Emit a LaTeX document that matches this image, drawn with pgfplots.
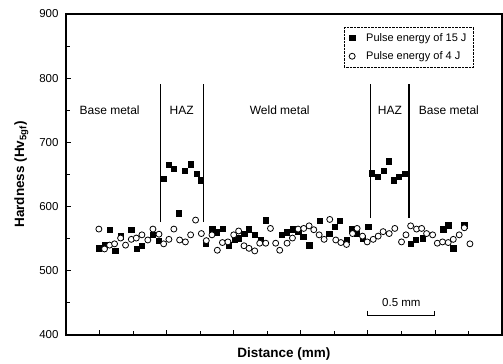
\documentclass[border=0pt]{standalone}
\usepackage{pgfplots}
\pgfplotsset{compat=1.18}
\usepackage{fontspec}
\setmainfont{Liberation Sans}
\begin{document}
\begin{tikzpicture}
\begin{axis}[
  scale only axis, width=436pt, height=321pt,
  xmin=-0.25, xmax=3.0, ymin=400, ymax=900,
  xtick={0,0.5,...,2.5}, minor xtick={0.25,0.75,...,2.75}, xticklabels={},
  ytick={400,500,...,900}, minor ytick={450,550,...,850},
  tick pos=left, tick align=inside,
  major tick length=5pt, minor tick length=4pt,
  every tick/.style={black, line width=0.8pt},
  x tick style={black, line width=0.8pt},
  minor x tick style={black, line width=0.8pt},
  axis line style={line width=1.1pt},
  /pgf/number format/assume math mode=true,
  tick label style={font=\fontsize{11.5}{13}\selectfont},
  yticklabel style={xshift=-4pt},
  ylabel={\textbf{Hardness (Hv\textsubscript{5gf})}},
  xlabel={\textbf{Distance (mm)}},
  label style={font=\fontsize{13.5}{15}\selectfont},
  ylabel style={yshift=4pt},
  xlabel style={yshift=-2pt},
  legend style={at={(0.935,0.96)}, anchor=north east, draw=black, densely dotted,
    font=\fontsize{11}{13}\selectfont, row sep=5pt, column sep=9pt,
    inner xsep=5pt, inner ysep=4pt},
  legend cell align=left,
  clip=false,
]
\addplot[only marks, mark=square*, mark size=2.7pt, black, mark options={solid}] coordinates {
(-0.005,535) (0.037,540) (0.075,564) (0.117,531) (0.157,554) (0.237,564) (0.278,534) (0.316,539) (0.398,556) (0.440,547)
(0.478,643) (0.515,665) (0.552,659) (0.592,590) (0.634,656) (0.679,666) (0.724,651) (0.754,641)
(0.791,542) (0.841,565) (0.875,560) (0.916,566) (0.965,540) (1.007,549) (1.037,551) (1.077,558) (1.114,565) (1.157,556) (1.201,548) (1.239,579)
(1.356,556) (1.396,560) (1.443,565) (1.480,561) (1.517,553) (1.562,540) (1.642,578) (1.711,558) (1.754,569) (1.791,578) (1.841,548) (1.878,565) (1.916,558) (1.960,551) (2.002,569)
(2.030,652) (2.075,647) (2.119,656) (2.157,671) (2.194,641) (2.231,647) (2.276,651)
(2.319,542) (2.358,548) (2.408,551) (2.562,565) (2.599,571) (2.637,535) (2.719,571)
};
\addlegendentry{Pulse energy of 15 J}
\addplot[only marks, mark=*, mark size=3pt, black, mark options={solid, fill=white, line width=0.8pt}] coordinates {
(-0.005,565) (0.037,534) (0.075,540) (0.112,542) (0.157,551) (0.194,540) (0.237,549) (0.274,551) (0.316,556) (0.360,548)
(0.398,565) (0.443,557) (0.478,542) (0.517,549) (0.554,565) (0.597,548) (0.640,545) (0.679,556) (0.716,579) (0.759,558)
(0.796,547) (0.838,556) (0.878,532) (0.916,544) (0.957,545) (1.000,556) (1.037,562) (1.077,539) (1.114,535) (1.157,531)
(1.194,543) (1.239,543) (1.274,566) (1.313,543) (1.343,532) (1.398,543) (1.438,551) (1.480,565) (1.522,566) (1.562,570)
(1.597,564) (1.637,556) (1.674,549) (1.716,580) (1.761,548) (1.799,544) (1.841,541) (1.886,558) (1.920,566) (1.960,554)
(1.995,545) (2.040,549) (2.077,554) (2.114,561) (2.159,558) (2.201,566) (2.251,545) (2.284,556) (2.319,570) (2.363,565)
(2.401,566) (2.438,558) (2.483,556) (2.518,543) (2.557,545) (2.599,544) (2.637,549) (2.681,556) (2.719,567) (2.761,542)
};
\addlegendentry{Pulse energy of 4 J}
\draw[line width=1.4pt] (axis cs:0.455,576) -- (axis cs:0.455,791);
\draw[line width=1.4pt] (axis cs:0.776,576) -- (axis cs:0.776,791);
\draw[line width=1.4pt] (axis cs:2.022,582) -- (axis cs:2.022,791);
\draw[line width=1.4pt] (axis cs:2.306,582) -- (axis cs:2.306,791);
\node[font=\fontsize{12}{14}\selectfont] at (axis cs:0.075,750) {Base metal};
\node[font=\fontsize{12}{14}\selectfont] at (axis cs:0.612,750) {HAZ};
\node[font=\fontsize{12}{14}\selectfont] at (axis cs:1.343,750) {Weld metal};
\node[font=\fontsize{12}{14}\selectfont] at (axis cs:2.164,750) {HAZ};
\node[font=\fontsize{12}{14}\selectfont] at (axis cs:2.604,750) {Base metal};
\draw[line width=1pt] (axis cs:2.0,438) -- (axis cs:2.0,431) -- (axis cs:2.5,431) -- (axis cs:2.5,438);
\node[font=\fontsize{11.5}{13}\selectfont] at (axis cs:2.25,450) {0.5 mm};
\end{axis}
\path ([shift={(-66pt,-28pt)}]current axis.south west) rectangle ([shift={(1pt,14pt)}]current axis.north east);
\end{tikzpicture}
\end{document}
